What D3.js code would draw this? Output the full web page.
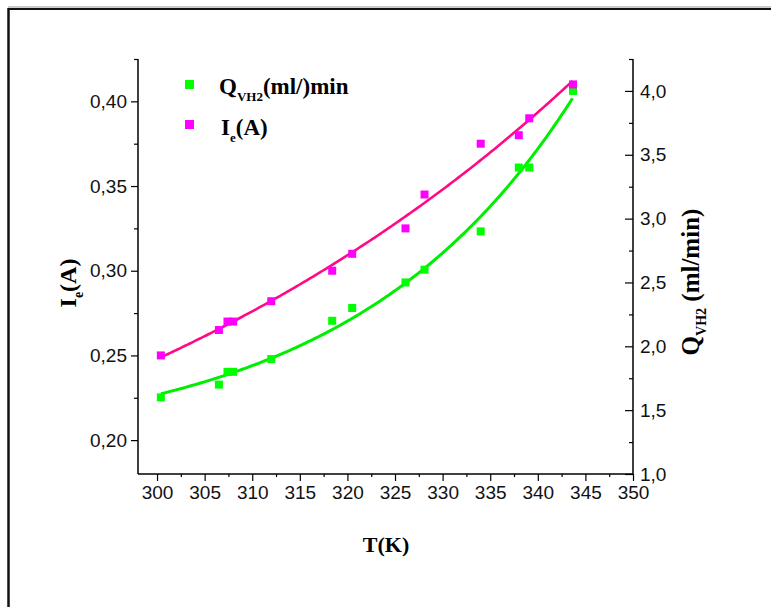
<!DOCTYPE html>
<html>
<head>
<meta charset="utf-8">
<script src="https://cdn.jsdelivr.net/npm/d3@7"></script>
<style>
  html, body { margin: 0; padding: 0; background: #fff; }
  svg { display: block; }
  .tick text { font-family: "Liberation Sans", Arial, sans-serif; }
</style>
</head>
<body>
<svg id="chart" width="771" height="607"></svg>
<script>
// Temperature (K) of each current measurement
const tempI = [300.4, 306.5, 307.4, 308.0, 312.0, 318.4, 320.5, 326.1, 328.1, 334.0, 338.0, 339.1, 343.7];
// Electrolysis current I_e (A), left axis
const currentA = [0.250, 0.265, 0.270, 0.270, 0.282, 0.300, 0.310, 0.325, 0.345, 0.375, 0.380, 0.390, 0.410];
// Temperature (K) of each flow measurement
const tempQ = [300.4, 306.5, 307.4, 308.0, 312.0, 318.4, 320.5, 326.1, 328.1, 334.0, 338.0, 339.1, 343.7];
// Hydrogen flow Q_VH2 (ml/min), right axis
const flowQ = [1.60, 1.70, 1.80, 1.80, 1.90, 2.20, 2.30, 2.50, 2.60, 2.90, 3.40, 3.40, 4.00];

const xTicks = [300, 305, 310, 315, 320, 325, 330, 335, 340, 345, 350];
const leftTicks = [0.20, 0.25, 0.30, 0.35, 0.40];
const rightTicks = [1.0, 1.5, 2.0, 2.5, 3.0, 3.5, 4.0];

const svg = d3.select("#chart");
const W = 771, H = 607;

// page frame: top rule and left rule
svg.append("line").attr("x1", 8).attr("x2", W).attr("y1", 7).attr("y2", 7)
  .attr("stroke", "#999").attr("stroke-width", 1);
svg.append("line").attr("x1", 8).attr("x2", W).attr("y1", 9).attr("y2", 9)
  .attr("stroke", "#111").attr("stroke-width", 2);
svg.append("line").attr("x1", 8.5).attr("x2", 8.5).attr("y1", 8).attr("y2", H)
  .attr("stroke", "#111").attr("stroke-width", 2.5);

const plot = { left: 138, right: 633, top: 59, bottom: 474 };

const x = d3.scaleLinear().domain([298, 350]).range([plot.left, plot.right]);
const yL = d3.scaleLinear().domain([0.18, 0.425]).range([plot.bottom, plot.top]);
const yR = d3.scaleLinear().domain([1.0, 4.25]).range([plot.bottom, plot.top]);

const fmt1 = d => d3.format(".1f")(d).replace(".", ",");
const fmt2 = d => d3.format(".2f")(d).replace(".", ",");

function styleAxis(g) {
  g.selectAll("path.domain").remove();
  g.selectAll(".tick line").attr("stroke", "#000").attr("stroke-width", 1.2);
  g.selectAll(".tick text").attr("font-size", 19).attr("fill", "#111");
}

// minor ticks
const xMinor = d3.range(302.5, 350, 5);
const lMinor = d3.range(0.225, 0.43, 0.05);
const rMinor = d3.range(1.25, 4.3, 0.5);

svg.append("g").attr("transform", `translate(0,${plot.bottom})`)
  .call(d3.axisBottom(x).tickValues(xMinor).tickSize(3).tickFormat(""))
  .call(styleAxis);
svg.append("g").attr("transform", `translate(${plot.left},0)`)
  .call(d3.axisLeft(yL).tickValues(lMinor).tickSize(4).tickFormat(""))
  .call(styleAxis);
svg.append("g").attr("transform", `translate(${plot.right},0)`)
  .call(d3.axisLeft(yR).tickValues(rMinor).tickSize(4).tickFormat(""))
  .call(styleAxis);

// major ticks with labels
svg.append("g").attr("transform", `translate(0,${plot.bottom})`)
  .call(d3.axisBottom(x).tickValues(xTicks).tickSize(7).tickPadding(5).tickFormat(d3.format("d")))
  .call(styleAxis);
svg.append("g").attr("transform", `translate(${plot.left},0)`)
  .call(d3.axisLeft(yL).tickValues(leftTicks).tickSize(7).tickPadding(4).tickFormat(fmt2))
  .call(styleAxis);
const gR = svg.append("g").attr("transform", `translate(${plot.right},0)`)
  .call(d3.axisLeft(yR).tickValues(rightTicks).tickSize(8).tickFormat(fmt1))
  .call(styleAxis);
gR.selectAll(".tick text").attr("text-anchor", "start").attr("x", 7);

// axis lines
const axisLines = svg.append("g").attr("stroke", "#000").attr("stroke-width", 1.5).attr("fill", "none");
axisLines.append("line").attr("x1", x.range()[0]).attr("x2", x.range()[1])
  .attr("y1", plot.bottom).attr("y2", plot.bottom);
axisLines.append("line").attr("x1", plot.left).attr("x2", plot.left)
  .attr("y1", yL.range()[0]).attr("y2", yL.range()[1]);
axisLines.append("line").attr("x1", plot.right).attr("x2", plot.right)
  .attr("y1", yR.range()[0]).attr("y2", yR.range()[1]);

// least squares for y = a + b * exp(c * (T - T0)); c found by a simple scan
function expGrowFit(xs, ys) {
  const x0 = xs[0];
  let best = null;
  for (let c = 0.001; c <= 0.2; c += 0.0005) {
    const e = xs.map(v => Math.exp(c * (v - x0)));
    const n = xs.length, se = d3.sum(e), see = d3.sum(e, v => v * v);
    const sy = d3.sum(ys), sey = d3.sum(e, (v, i) => v * ys[i]);
    const det = n * see - se * se;
    const a = (sy * see - se * sey) / det;
    const b = (n * sey - se * sy) / det;
    const sse = d3.sum(ys, (v, i) => (v - a - b * e[i]) ** 2);
    if (!best || sse < best.sse) best = { a, b, c, sse };
  }
  return v => best.a + best.b * Math.exp(best.c * (v - x0));
}

const fitI = expGrowFit(tempI, currentA);
const fitQ = expGrowFit(tempQ, flowQ);
const spanI = d3.range(d3.min(tempI), d3.max(tempI) + 0.01, 0.25);
const spanQ = d3.range(d3.min(tempQ), d3.max(tempQ) + 0.01, 0.25);

const lineI = d3.line().x(d => x(d)).y(d => yL(fitI(d)));
const lineQ = d3.line().x(d => x(d)).y(d => yR(fitQ(d)));

svg.append("path").datum(spanQ).attr("d", lineQ)
  .attr("fill", "none").attr("stroke", "#00ee00").attr("stroke-width", 3);
svg.append("path").datum(spanI).attr("d", lineI)
  .attr("fill", "none").attr("stroke", "#ff0a84").attr("stroke-width", 2.6);

const S = 8;
svg.append("g").selectAll("rect").data(tempQ).join("rect")
  .attr("x", (d) => x(d) - S / 2)
  .attr("y", (d, i) => yR(flowQ[i]) - S / 2)
  .attr("width", S).attr("height", S).attr("fill", "#00ff00");
svg.append("g").selectAll("rect").data(tempI).join("rect")
  .attr("x", (d) => x(d) - S / 2)
  .attr("y", (d, i) => yL(currentA[i]) - S / 2)
  .attr("width", S).attr("height", S).attr("fill", "#ff00ff");

// titles
const serif = '"Liberation Serif", "Times New Roman", serif';

svg.append("text").attr("x", 386).attr("y", 552).attr("text-anchor", "middle")
  .attr("font-family", serif).attr("font-weight", "bold").attr("font-size", 22)
  .text("T(K)");

const tl = svg.append("text").attr("transform", "translate(76,283) rotate(-90)")
  .attr("text-anchor", "middle").attr("font-family", serif).attr("font-weight", "bold")
  .attr("font-size", 24);
tl.append("tspan").text("I");
tl.append("tspan").attr("font-size", 14).attr("dy", 7).text("e");
tl.append("tspan").attr("dy", -7).text("(A)");

const tr = svg.append("text").attr("transform", "translate(699,282) rotate(-90)")
  .attr("text-anchor", "middle").attr("font-family", serif).attr("font-weight", "bold")
  .attr("font-size", 25);
tr.append("tspan").text("Q");
tr.append("tspan").attr("font-size", 14).attr("dy", 7).text("VH2");
tr.append("tspan").attr("dy", -7).text(" (ml/min)");

// legend
const legend = svg.append("g").attr("font-family", serif).attr("font-weight", "bold").attr("font-size", 23);
legend.append("rect").attr("x", 185).attr("y", 80).attr("width", 9).attr("height", 9).attr("fill", "#00ff00");
const lq = legend.append("text").attr("x", 219).attr("y", 94);
lq.append("tspan").text("Q");
lq.append("tspan").attr("font-size", 13).attr("dy", 7).text("VH2");
lq.append("tspan").attr("dy", -7).text("(ml/)min");

legend.append("rect").attr("x", 185).attr("y", 120).attr("width", 9).attr("height", 9).attr("fill", "#ff00ff");
const li = legend.append("text").attr("x", 221).attr("y", 135);
li.append("tspan").text("I");
li.append("tspan").attr("font-size", 13).attr("dy", 7).text("e");
li.append("tspan").attr("dy", -7).text("(A)");
</script>
</body>
</html>
